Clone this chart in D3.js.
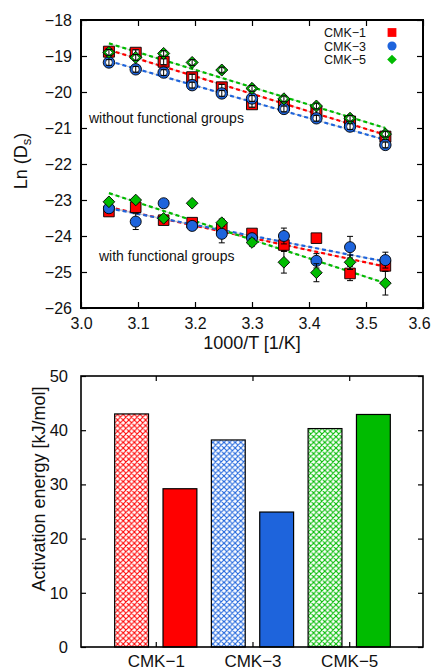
<!DOCTYPE html>
<html>
<head>
<meta charset="utf-8">
<script src="https://cdn.jsdelivr.net/npm/d3@7"></script>
<style>
  body { margin: 0; background: #fff; }
  svg { font-family: "Liberation Sans", Arial, sans-serif; }
</style>
</head>
<body>
<script>
// 1000/T values of the measured temperatures
const invT = [3.049, 3.096, 3.145, 3.195, 3.247, 3.300, 3.356, 3.413, 3.472, 3.534];
const seriesNames = ["CMK\u22121", "CMK\u22123", "CMK\u22125"];
const colors = ["#ff0000", "#1e64dc", "#00bb00"];

// Ln(Ds) without functional groups
const noFg1 = [-18.88, -18.91, -19.16, -19.59, -19.87, -20.34, -20.36, -20.55, -20.82, -21.24];
const noFg3 = [-19.18, -19.37, -19.46, -19.81, -20.04, -20.18, -20.47, -20.73, -20.96, -21.47];
const noFg5 = [-18.90, -19.04, -18.93, -19.18, -19.39, -19.90, -20.19, -20.39, -20.73, -21.17];
const noFgErr = [0.08, 0.08, 0.08, 0.08, 0.08, 0.08, 0.08, 0.08, 0.08, 0.08];

// Ln(Ds) with functional groups
const fg1 = [-23.32, -23.20, -23.56, -23.63, -23.79, -23.93, -24.25, -24.06, -25.04, -24.83];
const fg3 = [-23.23, -23.60, -23.09, -23.72, -23.94, -24.06, -24.00, -24.69, -24.31, -24.67];
const fg5 = [-23.05, -23.00, -23.51, -23.09, -23.63, -24.18, -24.73, -25.02, -24.73, -25.31];
const fg1Err = [0.12, 0.10, 0.08, 0.10, 0.15, 0.10, 0.15, 0.08, 0.20, 0.15];
const fg3Err = [0.10, 0.22, 0.05, 0.12, 0.25, 0.10, 0.22, 0.20, 0.30, 0.22];
const fg5Err = [0.05, 0.05, 0.08, 0.05, 0.10, 0.10, 0.30, 0.25, 0.20, 0.33];

// fitted Arrhenius lines, read at the two ends
const fitX = [3.049, 3.534];
const fitNoFg = [[-18.83, -21.19], [-19.14, -21.33], [-18.65, -21.00]];
const fitFg = [[-23.20, -24.85], [-23.23, -24.71], [-22.81, -25.31]];

// activation energies [kJ/mol]
const groups = ["CMK\u22121", "CMK\u22123", "CMK\u22125"];
const eaNoFg = [43.0, 38.2, 40.3];
const eaFg = [29.2, 24.9, 42.9];

const xTicks = [3.0, 3.1, 3.2, 3.3, 3.4, 3.5, 3.6];
const yTicks = [-26, -25, -24, -23, -22, -21, -20, -19, -18];
const eaTicks = [0, 10, 20, 30, 40, 50];

const W = 433, H = 670;
const svg = d3.select("body").append("svg").attr("width", W).attr("height", H);

// hatch patterns
const defs = svg.append("defs");
colors.forEach((c, i) => {
  const p = defs.append("pattern")
    .attr("id", "hatch" + i)
    .attr("patternUnits", "userSpaceOnUse")
    .attr("width", 5.6).attr("height", 5.6);
  p.append("rect").attr("width", 5.6).attr("height", 5.6).attr("fill", "#fff");
  p.append("path")
    .attr("d", "M0,0L5.6,5.6M0,5.6L5.6,0M-1,1L1,-1M4.6,6.6L6.6,4.6M-1,4.6L1,6.6M4.6,-1L6.6,1")
    .attr("stroke", c).attr("stroke-width", 1.1).attr("fill", "none");
});

// ---------- upper panel ----------
const x = d3.scaleLinear().domain([3.0, 3.6]).range([81, 423]);
const y = d3.scaleLinear().domain([-26, -18]).range([308, 20]);
const fmtMinus = d => d3.format(".0f")(d).replace("-", "\u2212");
const styleText = size => g => g.selectAll("text").attr("font-size", size).attr("fill", "#111")
  .attr("font-family", "Liberation Sans, Arial, sans-serif");

const upper = svg.append("g");

upper.append("g").attr("transform", `translate(0,${y(-26)})`)
  .call(d3.axisBottom(x).tickValues(xTicks).tickFormat(d3.format(".1f")).tickSize(-6).tickPadding(10))
  .call(g => g.select(".domain").remove())
  .call(styleText(16))
  .call(g => g.selectAll("text").filter(d => d === 3.6).attr("dx", -4));
upper.append("g").attr("transform", `translate(0,${y(-18)})`)
  .call(d3.axisTop(x).tickValues(xTicks).tickFormat("").tickSize(-6))
  .call(g => g.select(".domain").remove());
upper.append("g").attr("transform", `translate(${x(3.0)},0)`)
  .call(d3.axisLeft(y).tickValues(yTicks).tickFormat(fmtMinus).tickSize(-6).tickPadding(9))
  .call(g => g.select(".domain").remove())
  .call(styleText(16));
upper.append("g").attr("transform", `translate(${x(3.6)},0)`)
  .call(d3.axisRight(y).tickValues(yTicks).tickFormat("").tickSize(-6))
  .call(g => g.select(".domain").remove());
upper.selectAll(".tick line").attr("stroke", "#000").attr("stroke-width", 1.2);

// fit lines
const fitLine = d3.line().x(d => x(d[0])).y(d => y(d[1]));
[fitNoFg, fitFg].forEach(set => {
  set.forEach((f, i) => {
    const pts = fitX.map((v, k) => [v, f[k]]);
    upper.append("path").attr("d", fitLine(pts)).attr("stroke", "#c8c8c8").attr("stroke-width", 1).attr("fill", "none");
    upper.append("path").attr("d", fitLine(pts)).attr("stroke", colors[i]).attr("stroke-width", 2.2)
      .attr("stroke-dasharray", "4,3").attr("fill", "none");
  });
});

function markerPath(kind, r) {
  if (kind === 0) return `M${-r},${-r}H${r}V${r}H${-r}Z`;
  if (kind === 1) return d3.arc()({innerRadius: 0, outerRadius: r * 1.04, startAngle: 0, endAngle: 2 * Math.PI});
  const q = r * 1.1;
  return `M0,${-q}L${q},0L0,${q}L${-q},0Z`;
}

function errBars(vals, errs) {
  const g = upper.append("g").attr("stroke", "#000").attr("stroke-width", 1);
  vals.forEach((v, k) => {
    const cx = x(invT[k]), y0 = y(v - errs[k]), y1 = y(v + errs[k]);
    g.append("line").attr("x1", cx).attr("x2", cx).attr("y1", y0).attr("y2", y1);
    g.append("line").attr("x1", cx - 3).attr("x2", cx + 3).attr("y1", y0).attr("y2", y0);
    g.append("line").attr("x1", cx - 3).attr("x2", cx + 3).attr("y1", y1).attr("y2", y1);
  });
}

// without functional groups: open markers
[noFg1, noFg3, noFg5].forEach((vals, i) => {
  const g = upper.append("g");
  vals.forEach((v, k) => {
    const t = `translate(${x(invT[k])},${y(v)})`;
    g.append("path").attr("d", markerPath(i, 5.5)).attr("transform", t)
      .attr("fill", colors[i]).attr("stroke", "#000").attr("stroke-width", 0.9);
    g.append("path").attr("d", markerPath(i, 3.2)).attr("transform", t)
      .attr("fill", "#fff").attr("stroke", "#000").attr("stroke-width", 0.6);
  });
  errBars(vals, noFgErr);
});

// with functional groups: filled markers
[[fg1, fg1Err], [fg3, fg3Err], [fg5, fg5Err]].forEach(([vals, errs], i) => {
  errBars(vals, errs);
  const g = upper.append("g");
  vals.forEach((v, k) => {
    g.append("path").attr("d", markerPath(i, 5.3))
      .attr("transform", `translate(${x(invT[k])},${y(v)})`)
      .attr("fill", colors[i]).attr("stroke", "#000").attr("stroke-width", 0.9);
  });
});

upper.append("rect").attr("x", x(3.0)).attr("y", y(-18))
  .attr("width", x(3.6) - x(3.0)).attr("height", y(-26) - y(-18))
  .attr("fill", "none").attr("stroke", "#000").attr("stroke-width", 2);

upper.append("text").attr("x", 89).attr("y", 123).attr("font-size", 14).attr("fill", "#111")
  .text("without functional groups");
upper.append("text").attr("x", 99).attr("y", 261).attr("font-size", 14).attr("fill", "#111")
  .text("with functional groups");

// legend
seriesNames.forEach((n, i) => {
  const ly = 32.5 + i * 13.5;
  upper.append("text").attr("x", 366).attr("y", ly + 4.5).attr("text-anchor", "end")
    .attr("font-size", 12.5).attr("fill", "#111").text(n);
  upper.append("path").attr("d", markerPath(i, 4.4)).attr("transform", `translate(392,${ly})`)
    .attr("fill", colors[i]);
});

// axis titles
upper.append("text").attr("x", 252).attr("y", 349).attr("text-anchor", "middle")
  .attr("font-size", 18).attr("fill", "#111").text("1000/T [1/K]");
const yl = upper.append("text").attr("transform", "translate(27,161) rotate(-90)")
  .attr("text-anchor", "middle").attr("font-size", 18).attr("fill", "#111");
yl.append("tspan").text("Ln (D");
yl.append("tspan").attr("font-size", 13).attr("dy", 4).text("s");
yl.append("tspan").attr("dy", -4).text(")");

// ---------- lower panel ----------
const xb = d3.scaleLinear().domain([0.227, 3.763]).range([81, 423]);
const yb = d3.scaleLinear().domain([0, 50]).range([647, 376]);
const lower = svg.append("g");
const groupPos = [1, 2, 3];

lower.append("g").attr("transform", `translate(0,${yb(0)})`)
  .call(d3.axisBottom(xb).tickValues(groupPos).tickFormat((d, i) => groups[i]).tickSize(-5).tickPadding(8))
  .call(g => g.select(".domain").remove())
  .call(styleText(17));
lower.append("g").attr("transform", `translate(0,${yb(50)})`)
  .call(d3.axisTop(xb).tickValues(groupPos).tickFormat("").tickSize(-5))
  .call(g => g.select(".domain").remove());
lower.append("g").attr("transform", `translate(${xb.range()[0]},0)`)
  .call(d3.axisLeft(yb).tickValues(eaTicks).tickSize(-5).tickPadding(13))
  .call(g => g.select(".domain").remove())
  .call(styleText(16.5));
lower.append("g").attr("transform", `translate(${xb.range()[1]},0)`)
  .call(d3.axisRight(yb).tickValues(eaTicks).tickFormat("").tickSize(-5))
  .call(g => g.select(".domain").remove());
lower.selectAll(".tick line").attr("stroke", "#000").attr("stroke-width", 1.2);

const bw = xb(0.35) - xb(0);
groupPos.forEach((gp, i) => {
  lower.append("rect").attr("x", xb(gp - 0.25) - bw / 2).attr("y", yb(eaNoFg[i]))
    .attr("width", bw).attr("height", yb(0) - yb(eaNoFg[i]))
    .attr("fill", `url(#hatch${i})`).attr("stroke", "#000").attr("stroke-width", 1.2);
  lower.append("rect").attr("x", xb(gp + 0.25) - bw / 2).attr("y", yb(eaFg[i]))
    .attr("width", bw).attr("height", yb(0) - yb(eaFg[i]))
    .attr("fill", colors[i]).attr("stroke", "#000").attr("stroke-width", 1.2);
});

lower.append("rect").attr("x", xb.range()[0]).attr("y", yb(50))
  .attr("width", xb.range()[1] - xb.range()[0]).attr("height", yb(0) - yb(50))
  .attr("fill", "none").attr("stroke", "#000").attr("stroke-width", 1.6);

lower.append("text").attr("transform", "translate(45,489) rotate(-90)")
  .attr("text-anchor", "middle").attr("font-size", 18).attr("fill", "#111")
  .text("Activation energy [kJ/mol]");
</script>
</body>
</html>
